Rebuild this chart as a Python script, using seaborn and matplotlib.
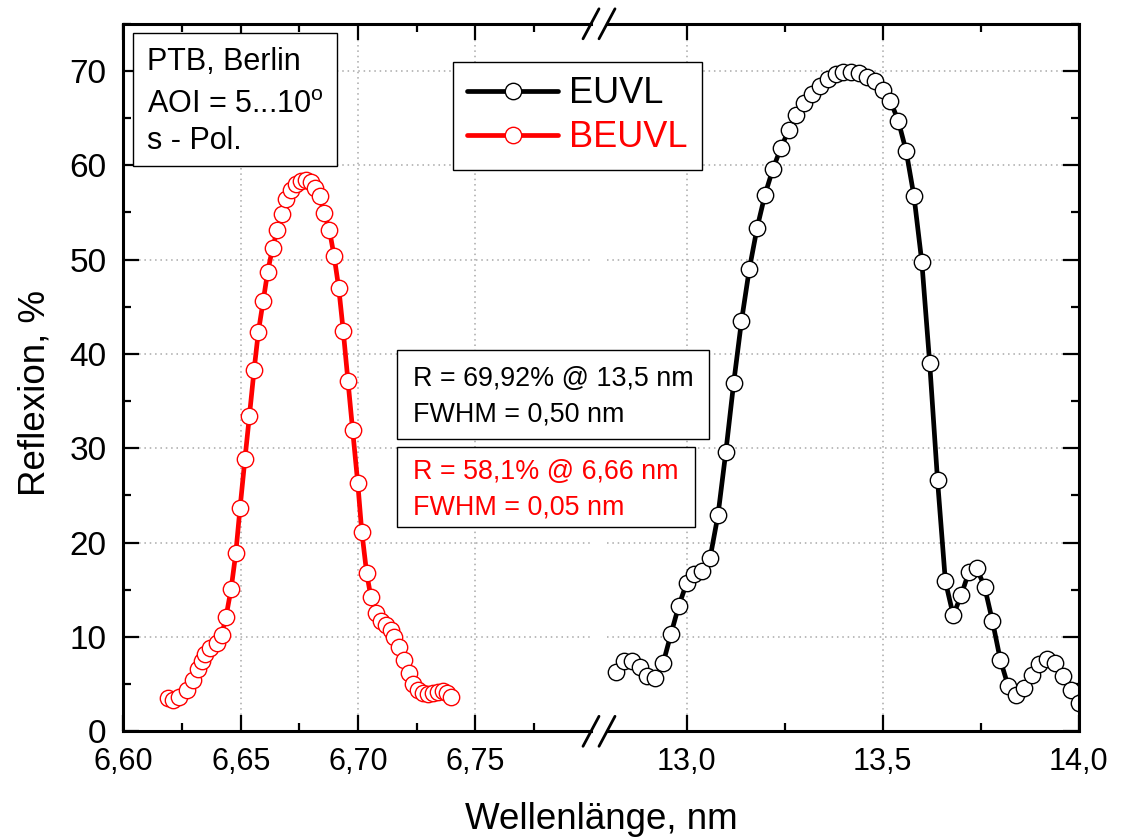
import matplotlib
matplotlib.use("Agg")
import matplotlib.pyplot as plt
import seaborn as sns
from matplotlib.lines import Line2D
from matplotlib.patches import Rectangle
from matplotlib.ticker import MultipleLocator

# BEUVL mirror (red)
beuvl_nm = [6.6191, 6.6213, 6.6238, 6.6270, 6.6298, 6.6317, 6.6334, 6.6348, 6.6369, 6.6398,
            6.6419, 6.6437, 6.6459, 6.6479, 6.6497, 6.6518, 6.6537, 6.6557, 6.6575, 6.6596,
            6.6615, 6.6636, 6.6656, 6.6676, 6.6695, 6.6715, 6.6736, 6.6757, 6.6778, 6.6798,
            6.6817, 6.6836, 6.6855, 6.6878, 6.6898, 6.6918, 6.6937, 6.6957, 6.6977, 6.6999,
            6.7016, 6.7037, 6.7055, 6.7077, 6.7097, 6.7118, 6.7139, 6.7153, 6.7176, 6.7197,
            6.7217, 6.7233, 6.7257, 6.7276, 6.7297, 6.7318, 6.7340, 6.7361, 6.7378, 6.7395]
beuvl_r = [3.50, 3.32, 3.67, 4.38, 5.44, 6.57, 7.45, 8.19, 8.80, 9.33,
           10.21, 12.09, 15.09, 18.87, 23.64, 28.87, 33.43, 38.30, 42.30, 45.65,
           48.72, 51.27, 53.14, 54.84, 56.43, 57.38, 58.02, 58.34, 58.44, 58.18,
           57.60, 56.75, 54.98, 53.14, 50.39, 46.96, 42.44, 37.17, 31.94, 26.29,
           21.16, 16.75, 14.21, 12.51, 11.72, 11.27, 10.74, 9.97, 8.97, 7.56,
           6.21, 4.98, 4.38, 4.03, 3.92, 4.03, 4.20, 4.27, 4.03, 3.67]

# EUVL mirror (black)
euvl_nm = [12.82, 12.84, 12.86, 12.88, 12.90, 12.92, 12.94, 12.96, 12.98, 13.00,
           13.02, 13.04, 13.06, 13.08, 13.10, 13.12, 13.14, 13.16, 13.18, 13.20,
           13.22, 13.24, 13.26, 13.28, 13.30, 13.32, 13.34, 13.36, 13.38, 13.40,
           13.42, 13.44, 13.46, 13.48, 13.50, 13.52, 13.54, 13.56, 13.58, 13.60,
           13.62, 13.64, 13.66, 13.68, 13.70, 13.72, 13.74, 13.76, 13.78, 13.80,
           13.82, 13.84, 13.86, 13.88, 13.90, 13.92, 13.94, 13.96, 13.98, 14.00]
euvl_r = [6.3, 7.4, 7.5, 6.8, 5.9, 5.7, 7.2, 10.3, 13.3, 15.7,
          16.7, 17.0, 18.4, 22.9, 29.6, 36.9, 43.5, 49.0, 53.4, 56.9,
          59.6, 61.8, 63.7, 65.3, 66.6, 67.6, 68.4, 69.2, 69.7, 69.9,
          69.9, 69.8, 69.4, 68.9, 68.0, 66.8, 64.7, 61.5, 56.7, 49.7,
          39.0, 26.6, 15.9, 12.3, 14.4, 16.9, 17.3, 15.3, 11.7, 7.6,
          4.8, 3.9, 4.6, 6.0, 7.1, 7.7, 7.2, 5.9, 4.4, 3.0]

left_ticks = [6.60, 6.65, 6.70, 6.75]
left_labels = ["6,60", "6,65", "6,70", "6,75"]
right_ticks = [13.0, 13.5, 14.0]
right_labels = ["13,0", "13,5", "14,0"]
y_ticks = [0, 10, 20, 30, 40, 50, 60, 70]

sns.set_theme(style="white")
plt.rcParams['font.family'] = ['Liberation Sans', 'DejaVu Sans']
plt.rcParams['mathtext.fontset'] = 'custom'
plt.rcParams['mathtext.rm'] = 'Liberation Sans'
plt.rcParams['text.color'] = 'black'

W, H = 1122, 839
fig = plt.figure(figsize=(W / 100, H / 100), dpi=100)


def fx(px):
    return px / W


def fy(py):
    return 1 - py / H


y_top, y_bot = 23.8, 731.3
ax1 = fig.add_axes([fx(123.4), fy(y_bot), fx(591) - fx(123.4), (y_bot - y_top) / H])
ax2 = fig.add_axes([fx(607), fy(y_bot), fx(1078.7) - fx(607), (y_bot - y_top) / H])

line_kw = dict(marker='o', markersize=11.8, markerfacecolor='white', markeredgewidth=1.0,
               linewidth=3.4, sort=False, legend=False)
sns.lineplot(x=beuvl_nm, y=beuvl_r, ax=ax1, color='red', markeredgecolor='red',
             label='BEUVL', **line_kw)
sns.lineplot(x=euvl_nm, y=euvl_r, ax=ax2, color='black', markeredgecolor='black',
             label='EUVL', **line_kw)

ax1.set_xlim(6.60, 6.7993)
ax2.set_xlim(12.797, 14.0)
ax1.set_xticks(left_ticks, left_labels)
ax2.set_xticks(right_ticks, right_labels)
ax1.xaxis.set_minor_locator(MultipleLocator(0.025))
ax2.xaxis.set_minor_locator(MultipleLocator(0.25))

for ax in (ax1, ax2):
    ax.set_ylim(0, 75)
    ax.set_yticks(y_ticks)
    ax.yaxis.set_minor_locator(MultipleLocator(5))
    ax.grid(True, which='major', color='#a8a8a8', linestyle=(0, (1, 2.5)), linewidth=1.1)
    ax.set_axisbelow(True)
    ax.tick_params(which='both', direction='in', top=True, bottom=True, width=1.6,
                   color='black', labelcolor='black')
    ax.tick_params(which='major', length=11.5)
    ax.tick_params(which='minor', length=6)
    ax.tick_params(axis='x', pad=11, labelsize=22)
    ax.tick_params(axis='y', pad=12, labelsize=24)
    ax.set_xlabel('')
    ax.set_ylabel('')
    for s in ax.spines.values():
        s.set_linewidth(2.2)
        s.set_color('black')

ax1.spines['right'].set_visible(False)
ax1.tick_params(axis='y', which='both', left=True, right=False)
ax2.spines['left'].set_visible(False)
ax2.tick_params(axis='y', which='both', left=False, right=True, labelleft=False)

# axis break marks
for xb in (591, 607):
    for yb in (y_top, y_bot):
        fig.add_artist(Line2D([fx(xb - 8), fx(xb + 8)], [fy(yb + 15), fy(yb - 15)],
                              transform=fig.transFigure, color='black', linewidth=2.0))

# axis titles
fig.text(fx(601), fy(829), 'Wellenlänge, nm', ha='center', va='baseline', fontsize=26.5,
         color='black')
fig.text(fx(35), fy(393), 'Reflexion, %', rotation=90, ha='center', va='center',
         fontsize=26.5, color='black')

# legend
leg = fig.legend([ax2.lines[0], ax1.lines[0]], ['EUVL', 'BEUVL'], loc='upper left',
                 bbox_to_anchor=(fx(453), fy(62)), bbox_transform=fig.transFigure,
                 frameon=True, fancybox=False, fontsize=26, handlelength=2.5,
                 handletextpad=0.3, borderpad=0.4, labelspacing=0.25, borderaxespad=0)
leg.get_frame().set_edgecolor('black')
leg.get_frame().set_linewidth(1.0)
leg.get_frame().set_alpha(1)
leg.texts[0].set_color('black')
leg.texts[1].set_color('red')


def box(x0, y0, x1, y1):
    fig.add_artist(Rectangle((fx(x0), fy(y1)), fx(x1) - fx(x0), (y1 - y0) / H,
                             transform=fig.transFigure, facecolor='white',
                             edgecolor='black', linewidth=1.0, zorder=5))


box(133, 33, 337, 166)
fig.text(fx(147), fy(70), 'PTB, Berlin', fontsize=22, va='baseline', zorder=6, color='black')
fig.text(fx(147), fy(113), 'AOI = 5...10$^{\\mathregular{o}}$', fontsize=22, va='baseline',
         zorder=6, color='black')
fig.text(fx(147), fy(149), 's - Pol.', fontsize=22, va='baseline', zorder=6, color='black')

box(397, 350, 709, 439)
fig.text(fx(413), fy(386), 'R = 69,92% @ 13,5 nm', fontsize=19.4, va='baseline', zorder=6,
         color='black')
fig.text(fx(413), fy(421), 'FWHM = 0,50 nm', fontsize=19.4, va='baseline', zorder=6,
         color='black')

box(397, 447, 695, 527)
fig.text(fx(413), fy(479), 'R = 58,1% @ 6,66 nm', fontsize=19.4, va='baseline', color='red',
         zorder=6)
fig.text(fx(413), fy(515), 'FWHM = 0,05 nm', fontsize=19.4, va='baseline', color='red',
         zorder=6)

fig.savefig('out.png', dpi=100)
